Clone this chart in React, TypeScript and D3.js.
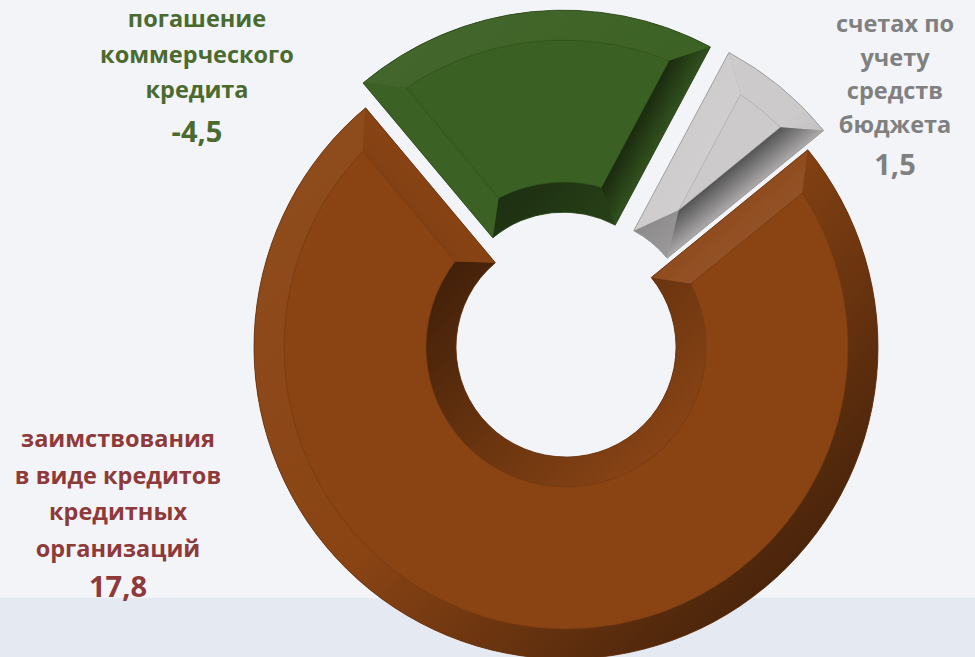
import React from "react";
import * as d3 from "d3";

// ---- data ----
const categories = [
  "заимствования в виде кредитов кредитных организаций",
  "погашение коммерческого кредита",
  "счетах по учету средств бюджета",
];
const values = [17.8, -4.5, 1.5];
const valueLabels = ["17,8", "-4,5", "1,5"];
const labelLines = [
  ["заимствования", "в виде кредитов", "кредитных", "организаций"],
  ["погашение", "коммерческого", "кредита"],
  ["счетах по", "учету", "средств", "бюджета"],
];
const sliceColors = ["#8A4414", "#3B6023", "#CCCACA"];
const labelColors = ["#8E3A3A", "#4A6A30", "#808080"];
const exploded = [0, 1, 1];

// ---- layout ----
const W = 975;
const H = 657;
const CX = 566;
const CY = 347;
const R = 312;
const R0 = 110;
const BW = 30;
const EXPLODE = 25;
const START_DEG = 50.8;

const labelPos = [
  { x: 118, y0: 447, dy: 36.7, ny: 597, fs: 23.5, nfs: 29 },
  { x: 197, y0: 27, dy: 35.5, ny: 142, fs: 23.5, nfs: 29 },
  { x: 895, y0: 32, dy: 33.5, ny: 175, fs: 23.5, nfs: 29 },
];

function shade(base: string, t: number): string {
  if (t >= 0) return d3.interpolateRgb(base, "#ffffff")(t * 0.35);
  return d3.interpolateRgb(base, "#000000")(-t * 0.65);
}

const pt = (r: number, a: number): [number, number] => [r * Math.sin(a), -r * Math.cos(a)];

function arcTo(p: d3.Path, r: number, a0: number, a1: number) {
  p.arc(0, 0, r, a0 - Math.PI / 2, a1 - Math.PI / 2, a1 < a0);
}

export default function App() {
  const pie = d3
    .pie<number>()
    .sort(null)
    .value((d) => Math.abs(d))
    .startAngle((START_DEG * Math.PI) / 180)
    .endAngle((START_DEG * Math.PI) / 180 + 2 * Math.PI);
  const arcs = pie(values);
  const light: [number, number] = [-Math.SQRT1_2, -Math.SQRT1_2];

  return (
    <svg
      width={W}
      height={H}
      style={{ position: "absolute", left: 0, top: 0, display: "block" }}
      fontFamily="'Open Sans', sans-serif"
    >
      <rect x={0} y={0} width={W} height={H} fill="#F3F4F8" />
      <rect x={0} y={598} width={W} height={H - 598} fill="#E5E9F1" />

      {arcs.map((a, i) => {
        const base = sliceColors[i];
        const a0 = a.startAngle;
        const a1 = a.endAngle;
        const mid = (a0 + a1) / 2;
        const off = exploded[i] * EXPLODE;
        const [tx, ty] = pt(off, mid);
        const half = (a1 - a0) / 2;
        const Rf = R - BW;
        const dOut = Math.asin(BW / Rf);
        const b0 = a0 + dOut;
        const b1 = a1 - dOut;
        const rMinIn = BW / Math.sin(half);
        let ri = R0 + BW;
        let c0: number, c1: number;
        if (rMinIn > ri) {
          ri = rMinIn;
          c0 = mid;
          c1 = mid;
        } else {
          const dIn = Math.asin(BW / ri);
          c0 = a0 + dIn;
          c1 = a1 - dIn;
        }
        const po = d3.path();
        po.moveTo(...pt(R, a0));
        arcTo(po, R, a0, a1);
        po.lineTo(...pt(Rf, b1));
        arcTo(po, Rf, b1, b0);
        po.closePath();
        const pi = d3.path();
        pi.moveTo(...pt(R0, a0));
        arcTo(pi, R0, a0, a1);
        pi.lineTo(...pt(ri, c1));
        if (c1 !== c0) arcTo(pi, ri, c1, c0);
        pi.closePath();
        const s0 = d3.path();
        s0.moveTo(...pt(R, a0));
        s0.lineTo(...pt(Rf, b0));
        s0.lineTo(...pt(ri, c0));
        s0.lineTo(...pt(R0, a0));
        s0.closePath();
        const s1 = d3.path();
        s1.moveTo(...pt(R, a1));
        s1.lineTo(...pt(Rf, b1));
        s1.lineTo(...pt(ri, c1));
        s1.lineTo(...pt(R0, a1));
        s1.closePath();
        const pf = d3.path();
        pf.moveTo(...pt(Rf, b0));
        arcTo(pf, Rf, b0, b1);
        pf.lineTo(...pt(ri, c1));
        if (c1 !== c0) arcTo(pf, ri, c1, c0);
        pf.closePath();

        const n0 = pt(1, a0 - Math.PI / 2);
        const n1 = pt(1, a1 + Math.PI / 2);
        const l0 = n0[0] * light[0] + n0[1] * light[1];
        const l1 = n1[0] * light[0] + n1[1] * light[1];
        const rm = (R + R0) / 2;
        const e0 = pt(rm, a0);
        const e1 = pt(rm, a1);
        const in0 = pt(BW, a0 + Math.PI / 2);
        const in1 = pt(BW, a1 - Math.PI / 2);

        const outline = d3.arc()({
          innerRadius: R0,
          outerRadius: R,
          startAngle: a0,
          endAngle: a1,
        } as any) as string;

        const sideStops = (l: number) =>
          l >= 0
            ? [shade(base, l * 0.12), shade(base, l * 0.22)]
            : [shade(base, l * 0.25), shade(base, l * 0.9)];
        const st0 = sideStops(l0);
        const st1 = sideStops(l1);

        return (
          <g key={i} transform={`translate(${CX + tx},${CY + ty})`}>
            <defs>
              <linearGradient id={`outer${i}`} gradientUnits="userSpaceOnUse" x1={-R * 0.7} y1={-R * 0.7} x2={R * 0.7} y2={R * 0.7}>
                <stop offset="0" stopColor={shade(base, 0.1)} />
                <stop offset="0.5" stopColor={shade(base, 0)} />
                <stop offset="1" stopColor={shade(base, -0.7)} />
              </linearGradient>
              <linearGradient id={`inner${i}`} gradientUnits="userSpaceOnUse" x1={-R0} y1={-R0} x2={R0} y2={R0}>
                <stop offset="0" stopColor={shade(base, -0.85)} />
                <stop offset="0.55" stopColor={shade(base, -0.35)} />
                <stop offset="1" stopColor={shade(base, 0.02)} />
              </linearGradient>
              <linearGradient id={`sideA${i}`} gradientUnits="userSpaceOnUse" x1={e0[0]} y1={e0[1]} x2={e0[0] + in0[0]} y2={e0[1] + in0[1]}>
                <stop offset="0" stopColor={st0[0]} />
                <stop offset="1" stopColor={st0[1]} />
              </linearGradient>
              <linearGradient id={`sideB${i}`} gradientUnits="userSpaceOnUse" x1={e1[0]} y1={e1[1]} x2={e1[0] + in1[0]} y2={e1[1] + in1[1]}>
                <stop offset="0" stopColor={st1[0]} />
                <stop offset="1" stopColor={st1[1]} />
              </linearGradient>
            </defs>
            <path d={outline} fill={shade(base, -0.3)} />
            <path d={po.toString()} fill={`url(#outer${i})`} />
            <path d={pi.toString()} fill={`url(#inner${i})`} />
            <path d={s0.toString()} fill={`url(#sideA${i})`} />
            <path d={s1.toString()} fill={`url(#sideB${i})`} />
            <path d={pf.toString()} fill={base} />
            <path d={pf.toString()} fill="none" stroke={shade(base, -0.25)} strokeWidth={0.6} />
            <path d={outline} fill="none" stroke={shade(base, -0.4)} strokeWidth={0.8} />
          </g>
        );
      })}

      {labelLines.map((lines, i) => {
        const p = labelPos[i];
        return (
          <g key={i} fill={labelColors[i]} fontWeight="bold" textAnchor="middle">
            <title>{categories[i]}</title>
            {lines.map((t, j) => (
              <text key={j} x={p.x} y={p.y0 + j * p.dy} fontSize={p.fs}>
                {t}
              </text>
            ))}
            <text x={p.x} y={p.ny} fontSize={p.nfs}>
              {valueLabels[i]}
            </text>
          </g>
        );
      })}
    </svg>
  );
}
